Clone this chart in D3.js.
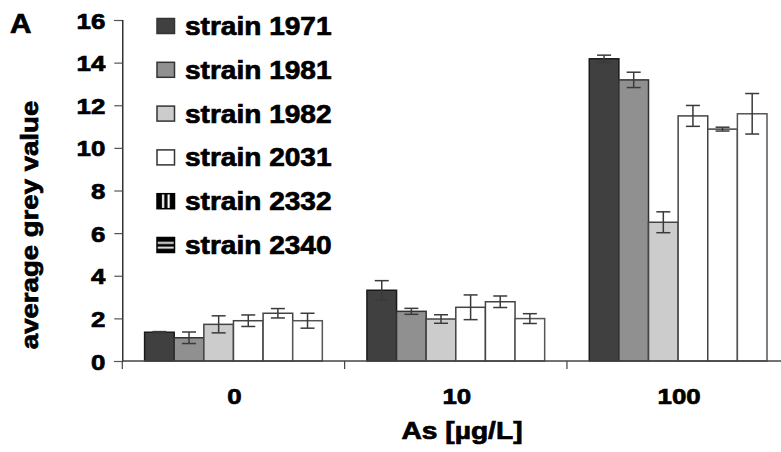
<!DOCTYPE html>
<html lang="en">

<head>
    <meta charset="UTF-8">
    <title>average grey value by strain</title>
    <script src="https://d3js.org/d3.v7.min.js"></script>
    <style>
        body { margin: 0; background: #fff; }
        text { font-family: "Liberation Sans", Arial, sans-serif; font-weight: bold; fill: #000; stroke: #000; stroke-width: 0.7px; }
    </style>
</head>

<body>
    <script>
        // data
        const doses = ["0", "10", "100"];
        const strains = ["strain 1971", "strain 1981", "strain 1982", "strain 2031", "strain 2332", "strain 2340"];
        const mean1971 = [1.35, 3.32, 14.18];
        const mean1981 = [1.09, 2.33, 13.19];
        const mean1982 = [1.72, 1.97, 6.51];
        const mean2031 = [1.89, 2.52, 11.50];
        const mean2332 = [2.24, 2.78, 10.88];
        const mean2340 = [1.89, 1.99, 11.60];
        const err1971 = [0.03, 0.45, 0.17];
        const err1981 = [0.27, 0.14, 0.36];
        const err1982 = [0.40, 0.20, 0.49];
        const err2031 = [0.27, 0.58, 0.49];
        const err2332 = [0.22, 0.27, 0.09];
        const err2340 = [0.35, 0.23, 0.95];
        const yTicks = [0, 2, 4, 6, 8, 10, 12, 14, 16];

        const means = [mean1971, mean1981, mean1982, mean2031, mean2332, mean2340];
        const errs = [err1971, err1981, err1982, err2031, err2332, err2340];

        const width = 781;
        const height = 452;
        const kx = 1.15; // glyphs in the figure are wider than Arial

        const svg = d3.select("body").append("svg").attr("width", width).attr("height", height);

        // legend patterns for 2332 / 2340
        const defs = svg.append("defs");
        const pv = defs.append("pattern").attr("id", "vstripe").attr("patternUnits", "userSpaceOnUse")
            .attr("x", 0).attr("y", -16.5).attr("width", 17.5).attr("height", 15);
        pv.append("rect").attr("width", 17.5).attr("height", 15).attr("fill", "#000");
        pv.append("rect").attr("x", 5).attr("width", 2.2).attr("height", 15).attr("fill", "#fff");
        pv.append("rect").attr("x", 10.5).attr("width", 2.2).attr("height", 15).attr("fill", "#fff");
        const ph = defs.append("pattern").attr("id", "hstripe").attr("patternUnits", "userSpaceOnUse")
            .attr("x", 0).attr("y", -16.5).attr("width", 17.5).attr("height", 15);
        ph.append("rect").attr("width", 17.5).attr("height", 15).attr("fill", "#000");
        ph.append("rect").attr("y", 4.5).attr("width", 17.5).attr("height", 1.8).attr("fill", "#fff");
        ph.append("rect").attr("y", 9.3).attr("width", 17.5).attr("height", 1.8).attr("fill", "#fff");

        const fills = ["#404040", "#909090", "#cccccc", "#ffffff", "#ffffff", "#ffffff"];
        const swatch = ["#404040", "#909090", "#cccccc", "#ffffff", "url(#vstripe)", "url(#hstripe)"];
        const strokes = ["#1a1a1a", "#333", "#444", "#444", "#444", "#555"];

        // scales
        const x0 = d3.scaleBand().domain(doses).range([122.3, 789.3]);
        const x1 = d3.scaleBand().domain(strains).range([22.3, x0.bandwidth() - 22.3]);
        const y = d3.scaleLinear().domain([0, 16]).range([361, 20]);

        // bars
        const rows = [];
        doses.forEach((d, i) => strains.forEach((s, j) => rows.push({ dose: d, strain: s, j: j, v: means[j][i], e: errs[j][i] })));

        const bars = svg.append("g");
        bars.selectAll("rect").data(rows).enter().append("rect")
            .attr("x", d => x0(d.dose) + x1(d.strain))
            .attr("y", d => y(d.v))
            .attr("width", x1.bandwidth())
            .attr("height", d => y(0) - y(d.v))
            .attr("fill", d => fills[d.j])
            .attr("stroke", d => strokes[d.j])
            .attr("stroke-width", 1.5);

        // error bars
        const eb = svg.append("g").attr("stroke", "#3a3a3a").attr("stroke-width", 1.5);
        rows.forEach(d => {
            const cx = x0(d.dose) + x1(d.strain) + x1.bandwidth() / 2;
            eb.append("line").attr("x1", cx).attr("x2", cx).attr("y1", y(d.v + d.e)).attr("y2", y(d.v - d.e));
            eb.append("line").attr("x1", cx - 7).attr("x2", cx + 7).attr("y1", y(d.v + d.e)).attr("y2", y(d.v + d.e));
            eb.append("line").attr("x1", cx - 7).attr("x2", cx + 7).attr("y1", y(d.v - d.e)).attr("y2", y(d.v - d.e));
        });

        // y axis
        const yAxis = svg.append("g").attr("transform", "translate(122.3,0)")
            .call(d3.axisLeft(y).tickValues(yTicks).tickSize(8).tickFormat(""));
        yAxis.select(".domain").attr("stroke", "#000").attr("stroke-width", 1.2);
        yAxis.selectAll(".tick line").attr("stroke", "#555").attr("stroke-width", 1.2);
        yAxis.selectAll(".tick").append("text")
            .attr("transform", "translate(-17,0) scale(" + kx + ",1)")
            .attr("dy", "0.36em")
            .attr("text-anchor", "end")
            .style("font-size", "22.5px")
            .text(d => d);

        // x axis: ticks at the group boundaries
        const xAxis = svg.append("g").attr("transform", "translate(0," + y(0) + ")");
        xAxis.append("line").attr("x1", 122.3).attr("x2", width).attr("stroke", "#444").attr("stroke-width", 1.5);
        xAxis.selectAll(".sep").data(doses).enter().append("line")
            .attr("x1", d => x0(d)).attr("x2", d => x0(d))
            .attr("y1", 0).attr("y2", 8)
            .attr("stroke", "#444").attr("stroke-width", 1.2);
        xAxis.selectAll(".lab").data(doses).enter().append("text")
            .attr("transform", d => "translate(" + (x0(d) + x0.bandwidth() / 2 + 1) + ",43) scale(" + kx + ",1)")
            .attr("text-anchor", "middle")
            .style("font-size", "22.5px")
            .text(d => d);

        // axis titles
        svg.append("text")
            .attr("transform", "translate(462,439) scale(" + kx + ",1)")
            .attr("text-anchor", "middle")
            .style("font-size", "24.5px")
            .text("As [µg/L]");
        svg.append("text")
            .attr("transform", "translate(38,225) rotate(-90) scale(1.2,1)")
            .attr("text-anchor", "middle")
            .style("font-size", "23px")
            .text("average grey value");
        svg.append("text")
            .attr("transform", "translate(10,33) scale(1.1,1)")
            .style("font-size", "27px")
            .text("A");

        // legend
        const leg = svg.append("g").selectAll("g").data(strains).enter().append("g")
            .attr("transform", (d, i) => "translate(157," + (35 + i * 43.8) + ")");
        leg.append("rect")
            .attr("x", 0).attr("y", -16.5)
            .attr("width", 17.5).attr("height", 15)
            .attr("fill", (d, i) => swatch[i])
            .attr("stroke", (d, i) => i > 3 ? "#000" : "#333")
            .attr("stroke-width", 1.5);
        leg.append("text")
            .attr("transform", "translate(28,0) scale(1.1,1)")
            .style("font-size", "25.5px")
            .text(d => d);
    </script>
</body>

</html>
